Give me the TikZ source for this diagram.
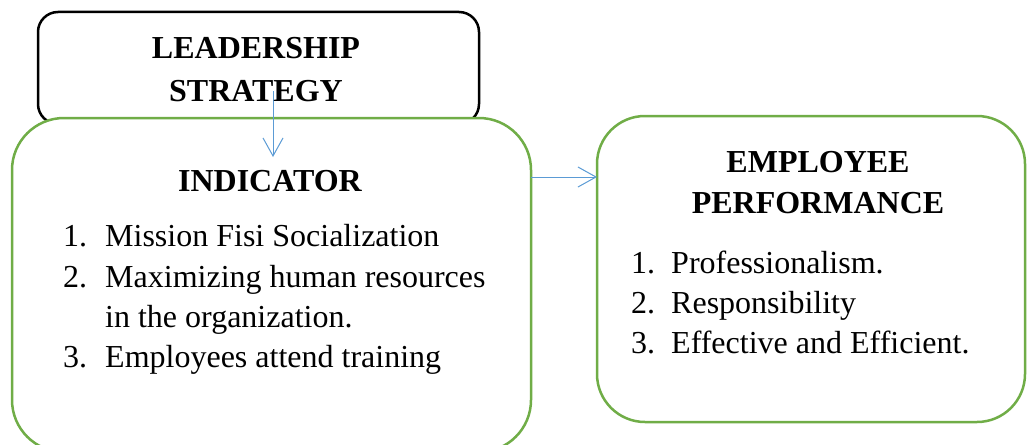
\documentclass[tikz,border=0pt]{standalone}
\usepackage{fontspec}
\setmainfont{Liberation Serif}
\usetikzlibrary{arrows.meta}
\definecolor{boxgreen}{HTML}{70AD47}
\definecolor{arrowblue}{HTML}{5B9BD5}
\begin{document}
\begin{tikzpicture}[x=1pt,y=-1pt,
  panel/.style={draw, line width=2.5pt, fill=white, inner sep=0pt, outer sep=0pt},
  greenpanel/.style={panel, draw=boxgreen},
  flow/.style={draw=arrowblue, line width=1pt, -{Straight Barb[length=18pt,width=20pt]}},
  head/.style={font=\bfseries\fontsize{32}{40}\selectfont, anchor=base, inner sep=0pt},
  item/.style={font=\fontsize{32}{40}\selectfont, anchor=base west, inner sep=0pt}]
\useasboundingbox (0,0) rectangle (1027,444);
\clip (0,0) rectangle (1027,444);

% boxes
\node[panel, rounded corners=20pt, minimum width=441pt, minimum height=112pt] (lead) at (258.5,68) {};
\node[greenpanel, rounded corners=52pt, minimum width=519pt, minimum height=334pt] (ind) at (271.5,285) {};
\node[greenpanel, rounded corners=48pt, minimum width=428pt, minimum height=306pt] (emp) at (811,269) {};

% connectors
\coordinate (dropStart) at (273,91);
\coordinate (dropEnd) at (273,157);
\coordinate (level) at (0,177);
\draw[flow] (dropStart) -- (dropEnd);
\draw[flow] (ind.east |- level) -- (emp.west |- level);

% headings
\node[head] (leadA) at (256,59) {LEADERSHIP};
\node[head] (leadB) at (256,101) {STRATEGY};
\node[head] (indHead) at (270,191) {INDICATOR};
\node[head] (empA) at (818,172) {EMPLOYEE};
\node[head] (empB) at (818,213) {PERFORMANCE};

% indicator list
\node[item] (n1) at (63,246) {1.};
\node[item] (t1) at (105,246) {Mission Fisi Socialization};
\node[item] (n2) at (63,287) {2.};
\node[item] (t2) at (105,287) {Maximizing human resources};
\node[item] (t2b) at (105,327) {in the organization.};
\node[item] (n3) at (63,367) {3.};
\node[item] (t3) at (105,367) {Employees attend training};

% performance list
\node[item] (p1) at (631,273) {1.};
\node[item] (q1) at (671,273) {Professionalism.};
\node[item] (p2) at (631,313) {2.};
\node[item] (q2) at (671,313) {Responsibility};
\node[item] (p3) at (631,353) {3.};
\node[item] (q3) at (671,353) {Effective and Efficient.};
\end{tikzpicture}
\end{document}
